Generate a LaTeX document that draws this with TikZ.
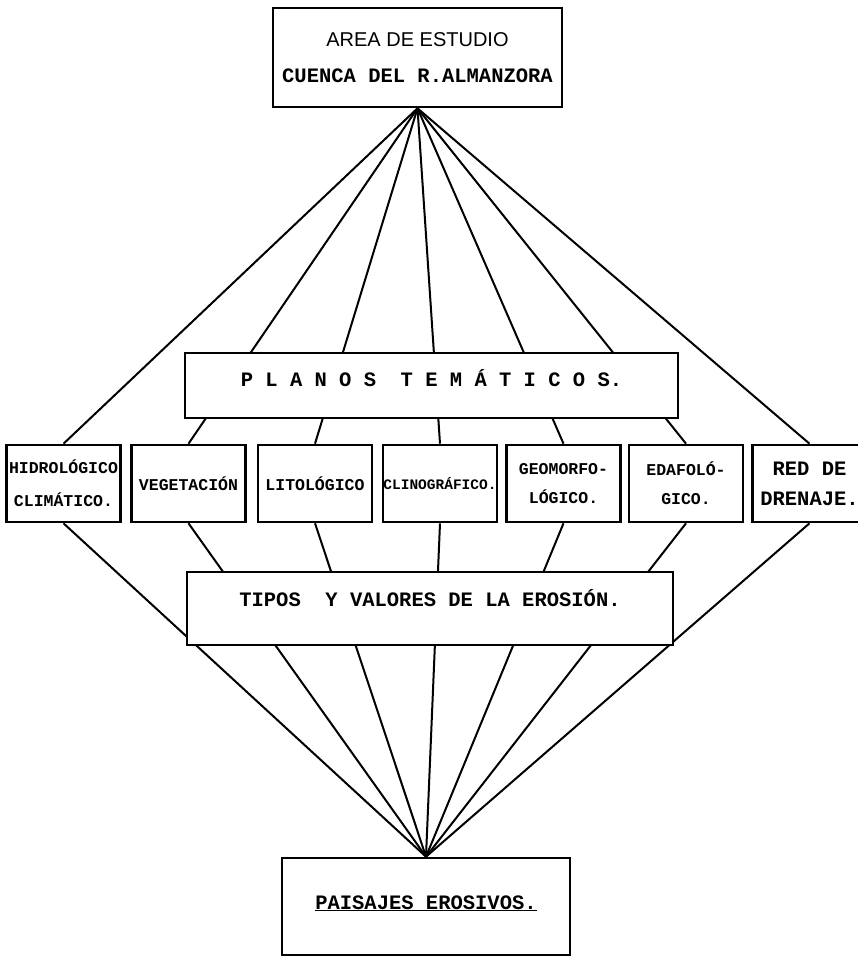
\documentclass[tikz,border=0pt]{standalone}
\usepackage{fontspec}
\newfontfamily\typer{Liberation Mono}
\newfontfamily\plotter{Liberation Sans}

\begin{document}
\begin{tikzpicture}[x=1pt, y=-1pt,
    caja/.style={draw, line width=2.6pt, inner sep=0pt, align=center,
        font=\typer\bfseries\fontsize{20.5}{24}\selectfont},
    tema/.style={caja, minimum width=114pt, minimum height=77pt,
        font=\typer\bfseries\fontsize{16.5}{19}\selectfont},
    rayo/.style={line width=2pt}]

    \useasboundingbox (0,0) rectangle (858,956);

    % area de estudio y paisajes
    \node[caja, minimum width=289pt, minimum height=99pt] (area) at (417.5,57.5)
        {{\plotter\mdseries\fontsize{20}{22}\selectfont AREA DE ESTUDIO}\\[12pt]
         CUENCA DEL R.ALMANZORA};
    \node[caja, minimum width=288pt, minimum height=97pt, text height=14pt, text depth=9pt]
        (paisajes) at (426,906.5) {\underline{PAISAJES EROSIVOS.}};

    % planos tematicos
    \node[tema] (hidro) at (63.5,483.5) {HIDROLÓGICO\\[14pt]CLIMÁTICO.};
    \node[tema] (veget) at (188.5,483.5) {VEGETACIÓN};
    \node[tema] (lito) at (315,483.5) {LITOLÓGICO};
    \node[tema, font=\typer\bfseries\fontsize{14.5}{17}\selectfont] (clino) at (440,483.5) {CLINOGRÁFICO.};
    \node[tema] (geomor) at (563.5,483.5) {GEOMORFO-\\[10pt]LÓGICO.};
    \node[tema] (edafo) at (686,483.5) {EDAFOLÓ-\\[10pt]GICO.};
    \node[tema, font=\typer\bfseries\fontsize{20.5}{24}\selectfont] (red) at (809.5,483.5) {RED DE\\[6pt]DRENAJE.};

    \foreach \t in {hidro,veget,lito,clino,geomor,edafo,red}{
        \draw[rayo] (area.south) -- (\t.north);
        \draw[rayo] (\t.south) -- (paisajes.north);
    }

    % cajas que tapan los rayos
    \node[caja, fill=white, minimum width=493pt, minimum height=65pt, text height=14pt, text depth=13pt]
        (planos) at (431.5,385.5) {P~L~A~N~O~S\hspace{1.2em}T~E~M~Á~T~I~C~O~S.};
    \node[caja, fill=white, minimum width=486pt, minimum height=73pt, text height=14pt, text depth=19pt]
        (tipos) at (430,608.5) {TIPOS~~Y VALORES DE LA EROSIÓN.};
\end{tikzpicture}
\end{document}
